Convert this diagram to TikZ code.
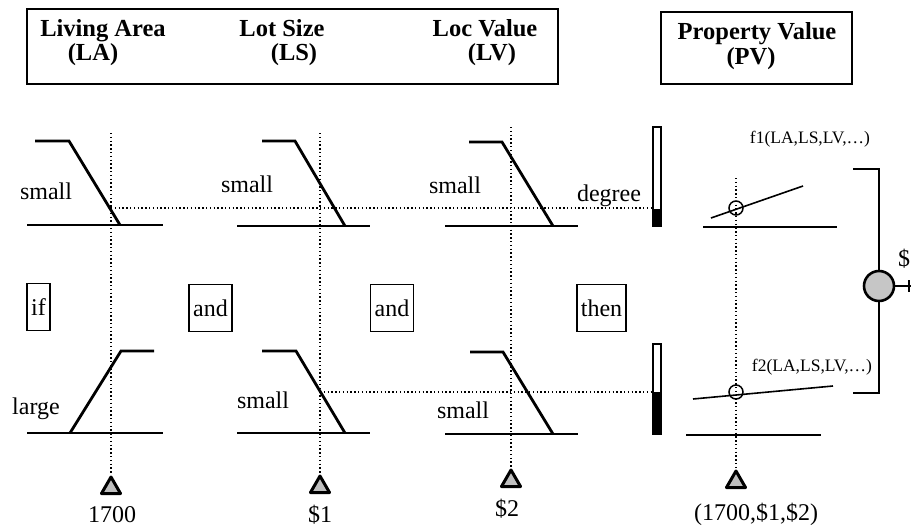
\documentclass[tikz,border=0pt]{standalone}
\usepackage{fontspec}
\setmainfont{Liberation Serif}
\usetikzlibrary{shapes.geometric,positioning}

\begin{document}
\begin{tikzpicture}[x=1pt,y=-1pt,
    hdr/.style={font=\fontsize{24.5}{26}\selectfont\bfseries,inner sep=0pt,anchor=base},
    lbl/.style={font=\fontsize{24}{26}\selectfont,inner sep=0pt,anchor=base},
    fnlbl/.style={font=\fontsize{17.5}{19}\selectfont,inner sep=0pt,anchor=base},
    frame/.style={draw,line width=1.4pt,inner sep=0pt},
    opbox/.style={draw,line width=1.4pt,minimum height=47pt,inner xsep=4pt,font=\fontsize{24}{26}\selectfont},
    mf/.style={line width=2.8pt},
    axis/.style={line width=1.8pt},
    fline/.style={line width=1.6pt},
    guide/.style={line width=1.4pt,dash pattern=on 1.4pt off 2.4pt},
    meter/.style={draw,line width=1.4pt,minimum width=8pt,inner sep=0pt},
    marker/.style={draw,line width=3pt,line join=round,fill=gray!50,regular polygon,
      regular polygon sides=3,minimum size=22pt,inner sep=0pt,anchor=north}]
  \useasboundingbox (0,0) rectangle (911,527);

  % header frames
  \node[frame,minimum width=531pt,minimum height=75pt] (inputs) at (292.5,46.5) {};
  \node[frame,minimum width=191pt,minimum height=72pt] (output) at (756.5,48) {};
  \node[hdr] (la) at (103,37) {Living Area};
  \node[hdr] (lacode) at (93,61) {(LA)};
  \node[hdr] (ls) at (282,37) {Lot Size};
  \node[hdr] (lscode) at (294,61) {(LS)};
  \node[hdr] (lv) at (485,37) {Loc Value};
  \node[hdr] (lvcode) at (492,61) {(LV)};
  \node[hdr] (pv) at (757,40) {Property Value};
  \node[hdr] (pvcode) at (751,65) {(PV)};

  % rule 1: all small
  \draw[mf] (35,141) -- (69,141) -- (120,225);
  \draw[axis] (27,225) -- (163,225);
  \draw[mf] (262,141) -- (295,141) -- (345,226);
  \draw[axis] (237,226) -- (370,226);
  \draw[mf] (469,142) -- (502,142) -- (553,226);
  \draw[axis] (445,226) -- (578,226);
  \node[lbl] (s1) at (46,199) {small};
  \node[lbl] (s2) at (247,192) {small};
  \node[lbl] (s3) at (455,193) {small};
  \node[lbl] (deg) at (609,201) {degree};

  % rule 2: large, small, small
  \draw[mf] (70,433) -- (121,351) -- (154,351);
  \draw[axis] (27,433) -- (163,433);
  \draw[mf] (262,351) -- (296,351) -- (345,433);
  \draw[axis] (237,433) -- (370,433);
  \draw[mf] (470,352) -- (503,352) -- (553,434);
  \draw[axis] (445,434) -- (578,434);
  \node[lbl] (l1) at (36,414) {large};
  \node[lbl] (s4) at (263,408) {small};
  \node[lbl] (s5) at (463,418) {small};

  % connectives
  \node[opbox] (opif) at (38.5,307) {if};
  \node[opbox] (opand1) at (210.5,308) {and};
  \node[opbox] (opand2) at (392,308) {and};
  \node[opbox] (opthen) at (601.5,308) {then};

  % firing strength meters
  \node[meter,minimum height=99pt] (bar1) at (657,176.5) {};
  \fill (653,209) rectangle (661,226);
  \node[meter,minimum height=90pt] (bar2) at (657,389) {};
  \fill (653,392) rectangle (661,434);
  \draw[guide] (111,208) -- (bar1.west |- 0,208);
  \draw[guide] (320,392) -- (bar2.west |- 0,392);

  % consequent functions
  \draw[axis] (703,227) -- (837,227);
  \draw[fline] (711,218) -- (803,186);
  \draw[line width=1.5pt] (736,208) circle (7pt);
  \draw[axis] (686,435) -- (821,435);
  \draw[fline] (693,399) -- (833,386);
  \draw[line width=1.5pt] (736,392) circle (7pt);
  \node[fnlbl] (f1) at (810,143) {f1(LA,LS,LV,…)};
  \node[fnlbl] (f2) at (812,371) {f2(LA,LS,LV,…)};

  % crisp inputs
  \foreach \x/\top/\tip/\nm in {111/133/474/a,320/133/473/b,511/127/467/c,736/178/468/d}{
    \node[marker] (tri\nm) at (\x,\tip) {};
    \draw[guide] (\x,\top) -- (tri\nm.north);
  }
  \node[lbl] (in1) at (112,522) {1700};
  \node[lbl] (in2) at (320,522) {\$1};
  \node[lbl] (in3) at (507,516) {\$2};
  \node[lbl,anchor=base west] (in4) at (694,520) {(1700,\$1,\$2)};

  % weighted sum
  \node[circle,draw,line width=2.6pt,fill=gray!45,minimum size=30pt,inner sep=0pt] (sum) at (879,286) {};
  \coordinate (top) at (853,169);
  \coordinate (bot) at (853,393);
  \coordinate (out) at (911,286);
  \draw[fline] (top) -| (sum.north);
  \draw[fline] (sum.south) |- (bot);
  \draw[fline] (sum.east) -- (out);
  \draw[fline] (909,280) -- (909,292);
  \node[lbl] (res) at (904,266) {\$};
\end{tikzpicture}
\end{document}
